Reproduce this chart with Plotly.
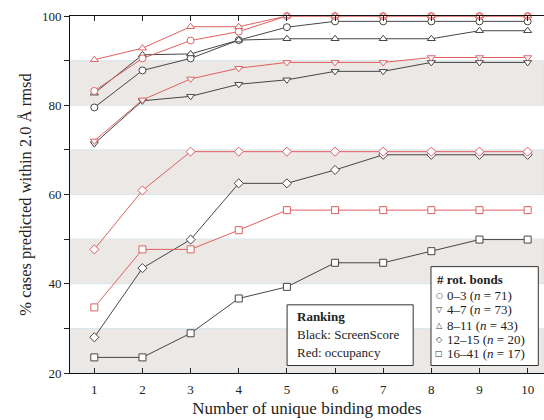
import plotly.graph_objects as go

modes = [1, 2, 3, 4, 5, 6, 7, 8, 9, 10]

# ScreenScore ranking (black)
ss_0_3 = [79.5, 87.8, 90.5, 94.6, 97.5, 98.8, 98.8, 98.8, 98.8, 98.8]
ss_4_7 = [71.4, 81.0, 82.0, 84.7, 85.7, 87.6, 87.6, 89.6, 89.6, 89.6]
ss_8_11 = [82.7, 91.3, 91.5, 94.6, 94.9, 94.9, 94.9, 94.9, 96.7, 96.7]
ss_12_15 = [28.0, 43.5, 49.9, 62.5, 62.5, 65.5, 68.9, 68.9, 68.9, 68.9]
ss_16_41 = [23.5, 23.5, 28.9, 36.7, 39.3, 44.7, 44.7, 47.3, 49.9, 49.9]

# occupancy ranking (red)
oc_0_3 = [83.2, 90.5, 94.5, 96.5, 100, 100, 100, 100, 100, 100]
oc_4_7 = [72.0, 81.2, 85.9, 88.3, 89.6, 89.6, 89.6, 90.7, 90.7, 90.7]
oc_8_11 = [90.2, 92.8, 97.6, 97.6, 100, 100, 100, 100, 100, 100]
oc_12_15 = [47.7, 60.9, 69.6, 69.6, 69.6, 69.6, 69.6, 69.6, 69.6, 69.6]
oc_16_41 = [34.7, 47.7, 47.7, 52.0, 56.5, 56.5, 56.5, 56.5, 56.5, 56.5]

groups = ["0–3", "4–7", "8–11", "12–15", "16–41"]
group_n = [71, 73, 43, 20, 17]
symbols = ["circle", "triangle-down", "triangle-up", "diamond", "square"]
legend_glyphs = ["○", "▽", "△", "◇", "□"]

y_ticks = [20, 30, 40, 50, 60, 70, 80, 90, 100]
y_labels = ["20", "", "40", "", "60", "", "80", "", "100"]
bands = [(20, 30), (40, 50), (60, 70), (80, 90)]

BLACK = "#464646"
RED = "#e06060"
SERIF = "Liberation Serif, Times New Roman, serif"

fig = go.Figure()

ss_all = [ss_0_3, ss_4_7, ss_8_11, ss_12_15, ss_16_41]
oc_all = [oc_0_3, oc_4_7, oc_8_11, oc_12_15, oc_16_41]

for series_list, color in [(ss_all, BLACK), (oc_all, RED)]:
    for vals, sym in zip(series_list, symbols):
        fig.add_trace(go.Scatter(
            x=modes, y=vals, mode="lines+markers",
            line=dict(color=color, width=1),
            marker=dict(symbol=sym, size=7, color="white",
                        line=dict(color=color, width=1)),
            cliponaxis=False, showlegend=False,
        ))

for lo, hi in bands:
    fig.add_shape(type="rect", xref="paper", yref="y", x0=0, x1=1, y0=lo, y1=hi,
                  fillcolor="#ebe8e6", line=dict(color="#d9e5ec", width=1), layer="below")

# Ranking box
fig.add_shape(type="rect", xref="paper", yref="paper", x0=0.458, x1=0.724, y0=0.021, y1=0.191,
              fillcolor="white", line=dict(color="#333333", width=1), layer="above")
# Rot bonds box
fig.add_shape(type="rect", xref="paper", yref="paper", x0=0.7616, x1=0.988, y0=0.021, y1=0.298,
              fillcolor="white", line=dict(color="#333333", width=1), layer="above")

ann = []
ann.append(dict(text="<b>Ranking</b>", x=0.475, y=0.158))
ann.append(dict(text="Black: ScreenScore", x=0.475, y=0.107))
ann.append(dict(text="Red: occupancy", x=0.475, y=0.057))
ann.append(dict(text="<b># rot. bonds</b>", x=0.770, y=0.263))
ys = [0.216, 0.177, 0.1324, 0.0952, 0.056]
for g, n, yy in zip(groups, group_n, ys):
    ann.append(dict(text=f"{g} (<i>n</i> = {n})", x=0.792, y=yy))

for a in ann:
    fig.add_annotation(xref="paper", yref="paper", xanchor="left", yanchor="middle",
                       showarrow=False, font=dict(family=SERIF, size=13, color="#222222"), **a)
for glyph, yy in zip(legend_glyphs, ys):
    fig.add_annotation(xref="paper", yref="paper", xanchor="center", yanchor="middle",
                       x=0.779, y=yy, text=glyph, showarrow=False,
                       font=dict(family="DejaVu Sans", size=8, color="#333333"))

fig.update_layout(
    width=544, height=420,
    margin=dict(l=70, r=0, t=16, b=47),
    plot_bgcolor="white", paper_bgcolor="white",
    font=dict(family=SERIF, size=13, color="#222222"),
    xaxis=dict(range=[0.495, 10.34], tickvals=modes, ticktext=[str(m) for m in modes],
               ticks="inside", ticklen=5, tickcolor="#222222", mirror="ticks",
               ticklabelstandoff=4,
               showline=True, linecolor="#111111", linewidth=1, showgrid=False, zeroline=False,
               title=dict(text="Number of unique binding modes", font=dict(size=17), standoff=6),
               tickfont=dict(size=13)),
    yaxis=dict(range=[20, 100], tickvals=y_ticks, ticktext=y_labels,
               ticks="outside", ticklen=5, tickcolor="#222222",
               showline=True, linecolor="#111111", linewidth=1, showgrid=False, zeroline=False,
               title=dict(text="% cases predicted within 2.0 Å rmsd", font=dict(size=16.5), standoff=6),
               tickfont=dict(size=13)),
)

fig.write_html("out.html")
